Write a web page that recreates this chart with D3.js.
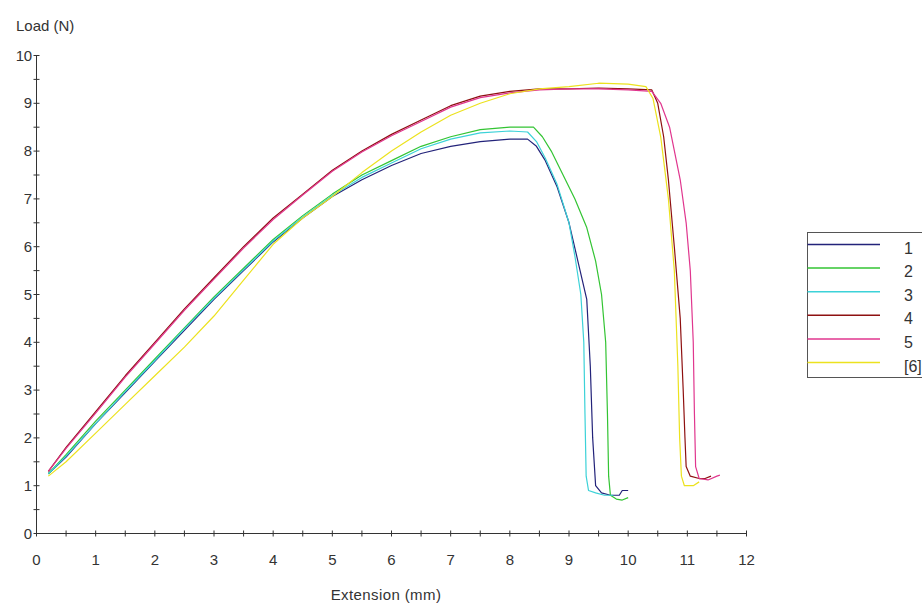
<!DOCTYPE html>
<html>
<head>
<meta charset="utf-8">
<script src="https://cdn.jsdelivr.net/npm/d3@7"></script>
<style>
  html, body { margin: 0; padding: 0; background: #fff; }
  svg { display: block; }
  text { font-family: "Liberation Sans", Arial, sans-serif; fill: #333; }
</style>
</head>
<body>
<svg id="chart" width="922" height="606"></svg>
<script>
// Specimen load–extension curves: [extension (mm), load (N)]
const specimen1 = [[0.2,1.25],[0.5,1.6],[1,2.3],[1.5,2.95],[2,3.6],[2.5,4.25],[3,4.9],[3.5,5.5],[4,6.1],[4.5,6.6],[5,7.05],[5.5,7.4],[6,7.7],[6.5,7.95],[7,8.1],[7.5,8.2],[8,8.25],[8.3,8.25],[8.45,8.1],[8.6,7.8],[8.8,7.25],[9.0,6.5],[9.15,5.7],[9.3,4.9],[9.36,3.5],[9.4,2.0],[9.45,1.0],[9.55,0.85],[9.7,0.8],[9.85,0.8],[9.9,0.9],[10.0,0.9]];
const specimen2 = [[0.2,1.25],[0.5,1.65],[1,2.35],[1.5,3.0],[2,3.65],[2.5,4.3],[3,4.95],[3.5,5.55],[4,6.15],[4.5,6.65],[5,7.1],[5.5,7.5],[6,7.8],[6.5,8.1],[7,8.3],[7.5,8.45],[8,8.5],[8.4,8.5],[8.55,8.3],[8.7,8.0],[8.9,7.5],[9.1,7.0],[9.3,6.4],[9.45,5.7],[9.55,5.0],[9.62,4.0],[9.65,2.5],[9.67,1.2],[9.7,0.8],[9.8,0.72],[9.9,0.7],[10.0,0.75]];
const specimen3 = [[0.2,1.25],[0.5,1.62],[1,2.3],[1.5,2.97],[2,3.62],[2.5,4.28],[3,4.92],[3.5,5.52],[4,6.12],[4.5,6.62],[5,7.07],[5.5,7.45],[6,7.75],[6.5,8.05],[7,8.25],[7.5,8.38],[8,8.42],[8.3,8.4],[8.45,8.2],[8.6,7.85],[8.8,7.3],[9.0,6.5],[9.1,5.8],[9.2,5.0],[9.25,4.0],[9.27,2.5],[9.29,1.2],[9.33,0.9],[9.45,0.85],[9.6,0.8],[9.75,0.8]];
const specimen4 = [[0.2,1.3],[0.5,1.8],[1,2.55],[1.5,3.3],[2,4.0],[2.5,4.7],[3,5.35],[3.5,6.0],[4,6.6],[4.5,7.1],[5,7.6],[5.5,8.0],[6,8.35],[6.5,8.65],[7,8.95],[7.5,9.15],[8,9.25],[8.5,9.3],[9,9.3],[9.5,9.32],[10,9.3],[10.4,9.28],[10.5,9.0],[10.6,8.3],[10.68,7.4],[10.78,6.0],[10.88,4.5],[10.93,3.0],[10.96,2.0],[10.98,1.4],[11.05,1.2],[11.2,1.15],[11.3,1.15],[11.4,1.2]];
const specimen5 = [[0.2,1.3],[0.5,1.78],[1,2.52],[1.5,3.27],[2,3.97],[2.5,4.67],[3,5.32],[3.5,5.97],[4,6.57],[4.5,7.08],[5,7.58],[5.5,7.98],[6,8.32],[6.5,8.62],[7,8.92],[7.5,9.12],[8,9.22],[8.5,9.28],[9,9.3],[9.5,9.3],[10,9.28],[10.4,9.25],[10.55,9.0],[10.7,8.5],[10.88,7.4],[10.98,6.5],[11.05,5.5],[11.1,4.0],[11.12,2.5],[11.14,1.4],[11.2,1.15],[11.35,1.12],[11.5,1.2],[11.55,1.22]];
const specimen6 = [[0.2,1.2],[0.5,1.5],[1,2.1],[1.5,2.7],[2,3.3],[2.5,3.9],[3,4.55],[3.5,5.3],[4,6.05],[4.5,6.6],[5,7.05],[5.5,7.55],[6,8.0],[6.5,8.4],[7,8.75],[7.5,9.0],[8,9.2],[8.5,9.3],[9,9.35],[9.5,9.42],[10,9.4],[10.3,9.35],[10.42,9.1],[10.55,8.3],[10.68,7.0],[10.78,5.5],[10.84,3.5],[10.87,2.0],[10.9,1.2],[10.95,1.0],[11.1,1.0],[11.2,1.08]];

const seriesNames = ["1", "2", "3", "4", "5", "[6]"];
const seriesColors = ["#23237a", "#33c433", "#3cd2d8", "#8e1010", "#e0368e", "#ece21e"];
const seriesData = [specimen1, specimen2, specimen3, specimen4, specimen5, specimen6];

const xTicks = [0,1,2,3,4,5,6,7,8,9,10,11,12];
const yTicks = [0,1,2,3,4,5,6,7,8,9,10];

const svg = d3.select("#chart");

const x = d3.scaleLinear().domain([0, 12]).range([36.5, 746.5]);
const y = d3.scaleLinear().domain([0, 10]).range([533.5, 55.5]);

// Minor ticks every 0.5 on both axes
const xMinor = d3.range(0, 12.01, 0.5);
const yMinor = d3.range(0, 10.01, 0.5);

const axisColor = "#333";
const fontSize = 15;

// X axis
const gx = svg.append("g");
gx.append("line")
  .attr("x1", x(0)).attr("x2", x(12))
  .attr("y1", y(0)).attr("y2", y(0))
  .attr("stroke", axisColor);
gx.selectAll("line.tick").data(xMinor).join("line")
  .attr("class", "tick")
  .attr("x1", d => x(d)).attr("x2", d => x(d))
  .attr("y1", y(0) - 3).attr("y2", y(0) + 3)
  .attr("stroke", axisColor);
gx.selectAll("text").data(xTicks).join("text")
  .attr("x", d => x(d)).attr("y", y(0) + 31)
  .attr("text-anchor", "middle")
  .attr("font-size", fontSize)
  .text(d => d);

// Y axis
const gy = svg.append("g");
gy.append("line")
  .attr("x1", x(0)).attr("x2", x(0))
  .attr("y1", y(0)).attr("y2", y(10))
  .attr("stroke", axisColor);
gy.selectAll("line.tick").data(yMinor).join("line")
  .attr("class", "tick")
  .attr("x1", x(0) - 3).attr("x2", x(0) + 3)
  .attr("y1", d => y(d)).attr("y2", d => y(d))
  .attr("stroke", axisColor);
gy.selectAll("text").data(yTicks).join("text")
  .attr("x", x(0) - 5).attr("y", d => y(d) + 5)
  .attr("text-anchor", "end")
  .attr("font-size", fontSize)
  .attr("letter-spacing", "-0.5")
  .text(d => d);

// Axis titles
svg.append("text")
  .attr("x", 16).attr("y", 31)
  .attr("font-size", fontSize)
  .text("Load (N)");
svg.append("text")
  .attr("x", 386).attr("y", 600)
  .attr("text-anchor", "middle")
  .attr("font-size", fontSize)
  .attr("letter-spacing", "0.4")
  .text("Extension (mm)");

// Curves
const line = d3.line()
  .x(d => x(d[0]))
  .y(d => y(d[1]))
  .curve(d3.curveLinear);

svg.append("g").selectAll("path").data(seriesData).join("path")
  .attr("d", d => line(d))
  .attr("fill", "none")
  .attr("stroke", (d, i) => seriesColors[i])
  .attr("stroke-width", 1.2)
  .attr("stroke-linejoin", "round");

// Legend
const legend = svg.append("g");
const legTop = 232.5, legLeft = 807.5, rowH = 23.6;
legend.append("rect")
  .attr("x", legLeft).attr("y", legTop)
  .attr("width", 140).attr("height", 145)
  .attr("fill", "#fff")
  .attr("stroke", "#555");
const rows = legend.selectAll("g").data(seriesNames).join("g")
  .attr("transform", (d, i) => `translate(0, ${legTop + 12 + i * rowH})`);
rows.append("line")
  .attr("x1", legLeft).attr("x2", 880)
  .attr("y1", 0).attr("y2", 0)
  .attr("stroke", (d, i) => seriesColors[i])
  .attr("stroke-width", 1.5);
rows.append("text")
  .attr("x", 904).attr("y", 9)
  .attr("font-size", 16)
  .text(d => d);
</script>
</body>
</html>
